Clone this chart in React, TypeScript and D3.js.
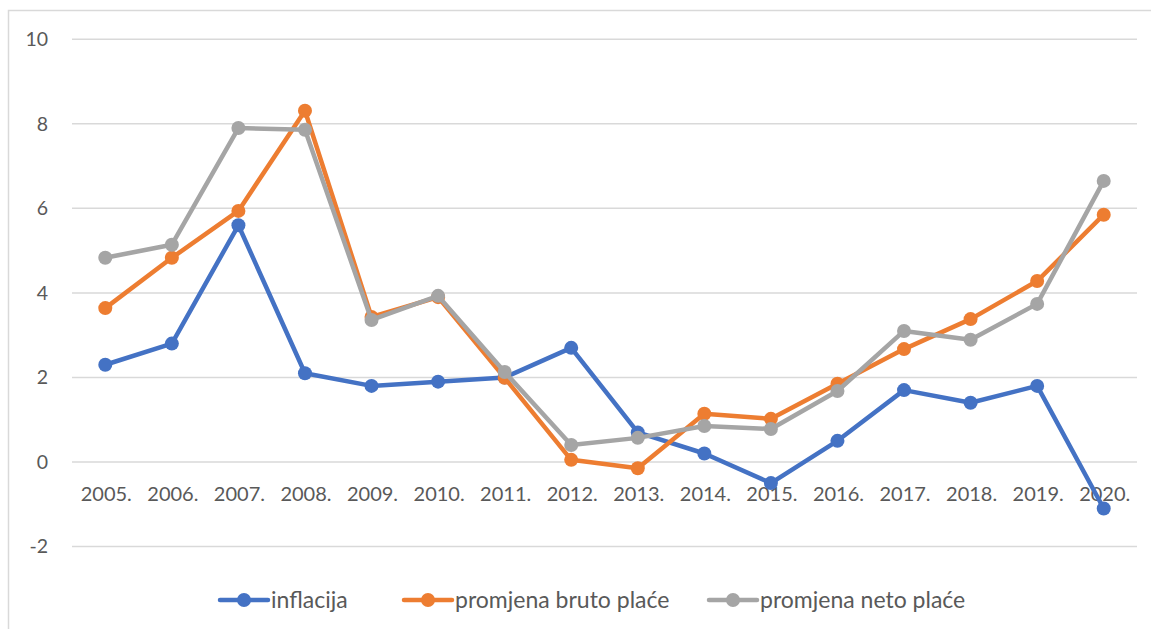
import * as d3 from "d3";
import { useEffect, useRef } from "react";

const years = [
  "2005.", "2006.", "2007.", "2008.", "2009.", "2010.", "2011.", "2012.",
  "2013.", "2014.", "2015.", "2016.", "2017.", "2018.", "2019.", "2020.",
];
const inflacija = [2.3, 2.8, 5.6, 2.1, 1.8, 1.9, 2.0, 2.7, 0.7, 0.2, -0.5, 0.5, 1.7, 1.4, 1.8, -1.1];
const bruto = [3.64, 4.83, 5.94, 8.31, 3.43, 3.9, 1.99, 0.05, -0.15, 1.14, 1.02, 1.85, 2.67, 3.38, 4.28, 5.85];
const neto = [4.83, 5.14, 7.9, 7.86, 3.36, 3.93, 2.13, 0.4, 0.57, 0.85, 0.78, 1.68, 3.1, 2.89, 3.74, 6.65];
const yTicks = [-2, 0, 2, 4, 6, 8, 10];

const seriesNames = ["inflacija", "promjena bruto plaće", "promjena neto plaće"];
const seriesColors = ["#4472C4", "#ED7D31", "#A5A5A5"];

const width = 1151;
const height = 629;
const font = "Lato, 'Open Sans', sans-serif";

export default function App() {
  const ref = useRef(null);

  useEffect(() => {
    draw();
  });

  function draw() {
    const svg = d3.select(ref.current);
    // clean the slate
    svg.selectAll("*").remove();

    // chart frame, runs off the right and bottom edge
    svg
      .append("rect")
      .attr("x", 8.5)
      .attr("y", 10.5)
      .attr("width", 1200)
      .attr("height", 700)
      .attr("fill", "white")
      .attr("stroke", "#D9D9D9")
      .attr("stroke-width", 1.5);

    const x = d3.scaleBand().domain(years).range([72, 1137]);
    const y = d3.scaleLinear().domain([-2, 10]).range([546.5, 39.3]);

    // gridlines
    svg
      .append("g")
      .selectAll("line")
      .data(yTicks)
      .enter()
      .append("line")
      .attr("x1", 72)
      .attr("x2", 1137)
      .attr("y1", (d) => y(d))
      .attr("y2", (d) => y(d))
      .attr("stroke", "#D9D9D9")
      .attr("stroke-width", 1.5);

    // y tick labels
    svg
      .append("g")
      .selectAll("text")
      .data(yTicks)
      .enter()
      .append("text")
      .attr("x", 48)
      .attr("y", (d) => y(d))
      .attr("dy", "0.35em")
      .attr("text-anchor", "end")
      .attr("font-family", font)
      .attr("font-size", 19.5)
      .attr("fill", "#595959")
      .text((d) => d);

    // category labels sit just under the zero line
    svg
      .append("g")
      .selectAll("text")
      .data(years)
      .enter()
      .append("text")
      .attr("x", (d) => x(d)! + x.bandwidth() / 2)
      .attr("y", y(0) + 32)
      .attr("dy", "0.35em")
      .attr("dx", 1)
      .attr("text-anchor", "middle")
      .attr("font-family", font)
      .attr("font-size", 20)
      .attr("fill", "#595959")
      .text((d) => d);

    // the series
    const allSeries = [inflacija, bruto, neto];
    const line = d3
      .line<number>()
      .x((_, i) => x(years[i])! + x.bandwidth() / 2)
      .y((d) => y(d));

    allSeries.forEach((values, k) => {
      const g = svg.append("g");
      g.append("path")
        .datum(values)
        .attr("fill", "none")
        .attr("stroke", seriesColors[k])
        .attr("stroke-width", 4.5)
        .attr("stroke-linejoin", "round")
        .attr("d", line);
      g.selectAll("circle")
        .data(values)
        .enter()
        .append("circle")
        .attr("cx", (_, i) => x(years[i])! + x.bandwidth() / 2)
        .attr("cy", (d) => y(d))
        .attr("r", 7)
        .attr("fill", seriesColors[k]);
    });

    // legend
    const legendX = [220, 404, 709];
    const legendY = 600;
    const legend = svg
      .append("g")
      .selectAll("g")
      .data(seriesNames)
      .enter()
      .append("g")
      .attr("transform", (_, i) => "translate(" + legendX[i] + "," + legendY + ")");
    legend
      .append("line")
      .attr("x1", 0)
      .attr("x2", 48)
      .attr("stroke", (_, i) => seriesColors[i])
      .attr("stroke-width", 4.5)
      .attr("stroke-linecap", "round");
    legend
      .append("circle")
      .attr("cx", 24)
      .attr("r", 7)
      .attr("fill", (_, i) => seriesColors[i]);
    legend
      .append("text")
      .attr("x", 51)
      .attr("dy", "0.35em")
      .attr("font-family", font)
      .attr("font-size", 23)
      .attr("fill", "#595959")
      .text((d) => d);
  }

  return (
    <svg
      ref={ref}
      width={width}
      height={height}
      style={{ position: "absolute", left: 0, top: 0, display: "block" }}
    ></svg>
  );
}
